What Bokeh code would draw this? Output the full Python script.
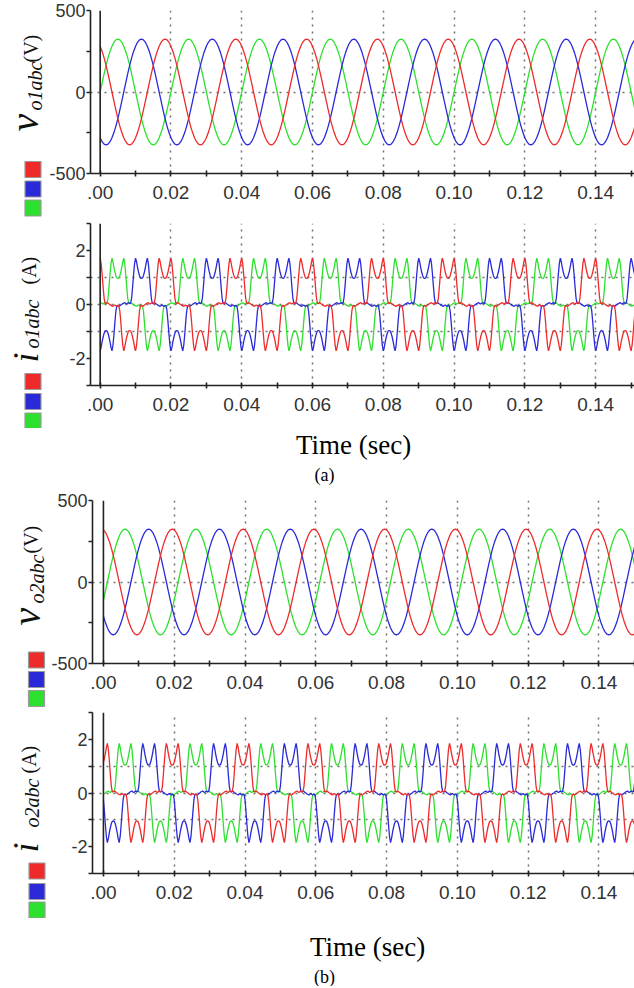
import math
import numpy as np
from bokeh.plotting import figure
from bokeh.models import FixedTicker, Span, Range1d
from bokeh.layouts import column, row
from bokeh.embed import file_html
from bokeh.resources import INLINE
from bokeh.core.properties import value

# ---------------- values ----------------
PERIOD = 0.02          # s, fundamental period (50 Hz)
T_END = 0.151          # s, last time shown

# phase-a (red) output voltage over one period, every 10 deg, starting at its positive peak (V)
V_CYCLE = [325, 320, 305, 281, 249, 209, 163, 111, 56, 0, -56, -111, -163, -209, -249, -281, -305, -320,
           -325, -320, -305, -281, -249, -209, -163, -111, -56, 0, 56, 111, 163, 209, 249, 281, 305, 320]
V_STEP_DEG = 10

# phase-a (red) output current over one period, every 5 deg from the phase-a voltage peak,
# as a fraction of the pulse peak (double-hump rectifier pulses)
I_CYCLE = [0.56, 0.57, 0.62, 0.70, 0.80, 0.92, 1.00, 0.88, 0.65, 0.38, 0.14, 0.03,
           0.02, 0.04, 0.03, 0.01, 0.00, -0.02, -0.03, -0.04, -0.02, -0.01, -0.03, -0.04,
           -0.02, -0.03, -0.14, -0.38, -0.65, -0.88, -1.00, -0.92, -0.80, -0.70, -0.62, -0.57,
           -0.56, -0.57, -0.62, -0.70, -0.80, -0.92, -1.00, -0.88, -0.65, -0.38, -0.14, -0.03,
           -0.02, -0.04, -0.03, -0.01, 0.00, 0.02, 0.03, 0.04, 0.02, 0.01, 0.03, 0.04,
           0.02, 0.03, 0.14, 0.38, 0.65, 0.88, 1.00, 0.92, 0.80, 0.70, 0.62, 0.57]
I_STEP_DEG = 5

I_PEAK_A = 1.72        # A, system (a)
I_PEAK_B = 1.85        # A, system (b)
LEAD_DEG_A = 30        # red voltage peak this many degrees before t = 0, system (a)
LEAD_DEG_B = 10        # same, system (b)

PHASES = ["a", "b", "c"]
PHASE_COLORS = ["#ee2a2a", "#2a2ad8", "#2ee02e"]
PHASE_SHIFT_DEG = [0, 120, -120]   # blue(θ) = red(θ+120°), green(θ) = red(θ-120°)

X_TICKS = [0.0, 0.02, 0.04, 0.06, 0.08, 0.10, 0.12, 0.14]
X_TICK_LABELS = [".00", "0.02", "0.04", "0.06", "0.08", "0.10", "0.12", "0.14"]
X_MINOR = [0.01, 0.03, 0.05, 0.07, 0.09, 0.11, 0.13, 0.15]

V_TICKS = [-500, 0, 500]
V_TICK_LABELS = ["-500", "0", "500"]
V_MINOR = [-250, 250]
V_GRID = [0, 500]
I_TICKS = [-2, 0, 2]
I_TICK_LABELS = ["-2", "0", "2"]
I_MINOR = [-3, -1, 1, 3]
I_GRID = [-1, 0, 1, 3]

# ---------------- layout helpers ----------------
PX_PER_SEC = 3559.0
PAGE_W = 634
SERIF = "Liberation Serif"
SANS = "Liberation Sans"


def periodic_series(cycle, step_deg, lead_deg, shift_deg, scale):
    n = len(cycle)
    k0 = lead_deg // step_deg
    n_samples = int(round(T_END / PERIOD * 360 / step_deg)) + 1
    k = np.arange(k0, k0 + n_samples)
    t = (k * step_deg - lead_deg) / 360.0 * PERIOD
    y = np.asarray(cycle, dtype=float)[(k + shift_deg // step_deg) % n] * scale
    return t, y


def blank_fig(width, height):
    f = figure(width=width, height=height, x_range=Range1d(0, width), y_range=Range1d(0, height),
               output_backend="svg", toolbar_location=None, min_border=0,
               x_axis_location=None, y_axis_location=None)
    f.min_border_left = f.min_border_right = f.min_border_top = f.min_border_bottom = 0
    f.outline_line_color = None
    f.background_fill_color = "white"
    f.border_fill_color = "white"
    f.xgrid.visible = False
    f.ygrid.visible = False
    return f


def make_side(width, height, pieces, squares):
    """pieces: (text, font px, style, baseline x, start y); the text runs upward."""
    s = blank_fig(width, height)
    for txt, size, style, xb, y in pieces:
        s.text(x=[xb - 0.33 * size], y=[y], text=[txt], angle=math.pi / 2, text_font=value(SERIF),
               text_font_style=style, text_font_size=f"{size}px", text_baseline="middle",
               text_align="left", text_color="#111111")
    sx, sy = squares
    s.rect(x=[sx] * 3, y=sy, width=16, height=16, fill_color=PHASE_COLORS,
           line_color="#9a9a9a", line_width=1.2)
    return s


def make_caption(height, items):
    c = blank_fig(PAGE_W, height)
    for txt, size, x, y in items:
        c.text(x=[x], y=[y], text=[txt], text_font=value(SERIF), text_font_size=f"{size}px",
               text_baseline="middle", text_align="center", text_color="#000000")
    return c


def make_main(kind, lead_deg, i_peak, width, height, top, bottom, left, x_start):
    x_end = x_start + (width - left) / PX_PER_SEC
    if kind == "v":
        lo, hi, ticks, labels, minor, grid = -500, 500, V_TICKS, V_TICK_LABELS, V_MINOR, V_GRID
    else:
        lo, hi, ticks, labels, minor, grid = -3, 3, I_TICKS, I_TICK_LABELS, I_MINOR, I_GRID

    p = figure(width=width, height=height, x_range=Range1d(x_start, x_end), y_range=Range1d(lo, hi),
               output_backend="svg", toolbar_location=None,
               min_border_left=left, min_border_right=0, min_border_top=top, min_border_bottom=bottom)
    p.outline_line_color = None
    p.background_fill_color = "white"
    p.border_fill_color = "white"

    p.xaxis.ticker = FixedTicker(ticks=X_TICKS, minor_ticks=X_MINOR)
    p.xaxis.major_label_overrides = dict(zip(X_TICKS, X_TICK_LABELS))
    p.yaxis.ticker = FixedTicker(ticks=ticks, minor_ticks=minor)
    p.yaxis.major_label_overrides = dict(zip(ticks, labels))
    for ax in (p.xaxis[0], p.yaxis[0]):
        ax.axis_line_color = "#222222"
        ax.axis_line_width = 1.6
        ax.major_tick_line_color = "#222222"
        ax.major_tick_line_width = 1.6
        ax.minor_tick_line_color = "#222222"
        ax.minor_tick_line_width = 1.6
        ax.major_label_text_font = SANS
        ax.major_label_text_color = "#333333"
    p.xaxis.major_label_text_font_size = "19px"
    p.yaxis.major_label_text_font_size = "18px"
    p.xaxis.major_tick_in = 3
    p.xaxis.major_tick_out = 3
    p.xaxis.minor_tick_in = 3
    p.xaxis.minor_tick_out = 3
    p.xaxis.major_label_standoff = 9
    p.yaxis.major_tick_in = 0
    p.yaxis.major_tick_out = 4
    p.yaxis.minor_tick_in = 0
    p.yaxis.minor_tick_out = 4
    p.yaxis.major_label_standoff = 1

    p.xgrid.ticker = FixedTicker(ticks=X_TICKS[1:])
    p.ygrid.ticker = FixedTicker(ticks=grid)
    for g in (p.xgrid[0], p.ygrid[0]):
        g.grid_line_color = "#6f6f6f"
        g.grid_line_dash = "2 5"
        g.grid_line_width = 1.5

    p.add_layout(Span(location=0, dimension="height", line_color="#222222", line_width=1.6))

    for j in [2, 1, 0]:
        if kind == "v":
            t, y = periodic_series(V_CYCLE, V_STEP_DEG, lead_deg, PHASE_SHIFT_DEG[j], 1.0)
        else:
            t, y = periodic_series(I_CYCLE, I_STEP_DEG, lead_deg, PHASE_SHIFT_DEG[j], i_peak)
        p.line(t, y, line_color=PHASE_COLORS[j], line_width=1.3)
    return p


# ---------------- assemble ----------------
# row 1: v_o1abc
H1, L1 = 218, 46
s1 = make_side(L1, H1, [("v", 40, "italic", 37.4, 87), ("o1abc", 20, "italic", 41.5, 108),
                        ("(V)", 20, "normal", 37, 156)],
               (32.5, [49, 29.5, 10.5]))
m1 = make_main("v", LEAD_DEG_A, None, PAGE_W - L1, H1, 10, 45, 41, -0.00273)

# row 2: i_o1abc
H2, L2 = 210, 46
s2 = make_side(L2, H2, [("i", 36, "italic", 37, 66), ("o1abc", 20, "italic", 38.5, 80),
                        ("(A)", 20, "normal", 35, 144)],
               (32.5, [47, 27, 7.5]))
m2 = make_main("i", LEAD_DEG_A, I_PEAK_A, PAGE_W - L2, H2, 5, 43, 41, -0.00273)

cap_a = make_caption(60, [("Time (sec)", 27, 353, 44), ("(a)", 18, 324, 14)])

# row 3: v_o2abc
H3, L3 = 220, 48
s3 = make_side(L3, H3, [("v", 40, "italic", 39.4, 83), ("o2abc", 20, "italic", 43.5, 105),
                        ("(V)", 20, "normal", 37, 155)],
               (36, [48.5, 29, 10]))
m3 = make_main("v", LEAD_DEG_B, None, PAGE_W - L3, H3, 12, 45, 41, -0.00309)

# row 4: i_o2abc
H4, L4 = 210, 48
s4 = make_side(L4, H4, [("i", 36, "italic", 37, 66), ("o2abc", 20, "italic", 38.5, 91),
                        ("(A)", 20, "normal", 35, 145)],
               (36.5, [47.5, 27, 8.5]))
m4 = make_main("i", LEAD_DEG_B, I_PEAK_B, PAGE_W - L4, H4, 4, 45, 41, -0.00309)

cap_b = make_caption(68, [("Time (sec)", 27, 367, 40), ("(b)", 18, 324, 10)])

block_a = row(column(s1, s2, spacing=0), column(m1, m2, spacing=0), spacing=0)
block_b = row(column(s3, s4, spacing=0), column(m3, m4, spacing=0), spacing=0)
layout = column(block_a, cap_a, block_b, cap_b, spacing=0)
open("out.html", "w").write(file_html(layout, INLINE))
